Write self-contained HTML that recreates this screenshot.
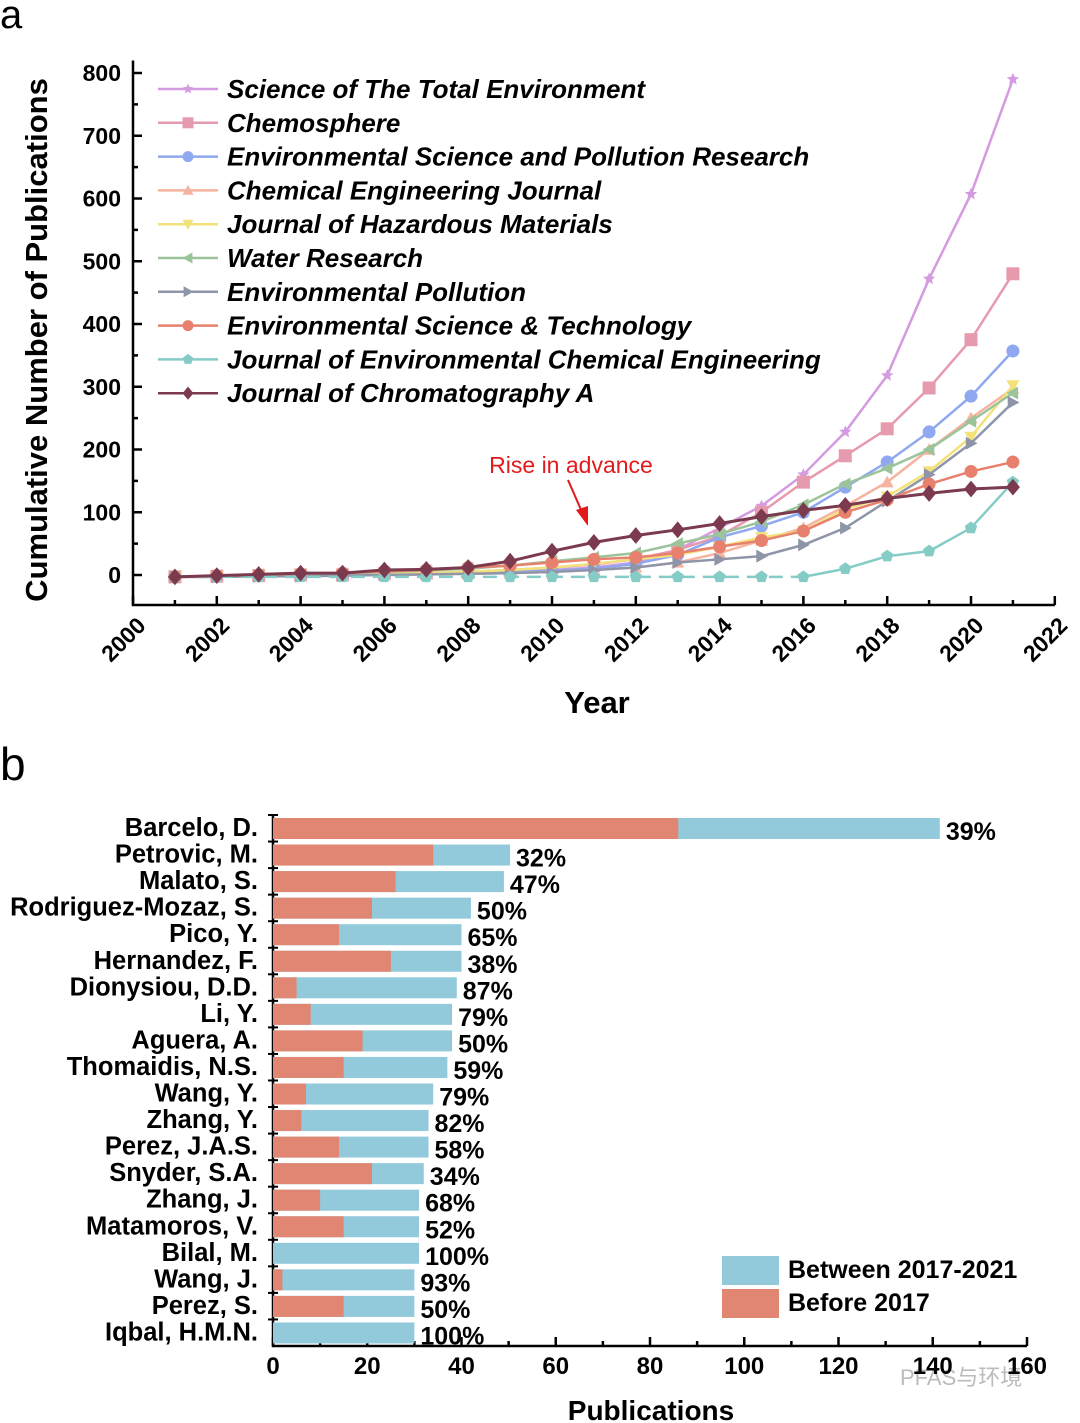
<!DOCTYPE html>
<html><head><meta charset="utf-8"><style>
body{margin:0;background:#fff;width:1080px;height:1423px;overflow:hidden}
svg{display:block;font-family:"Liberation Sans",Arial,sans-serif}
</style></head><body>
<svg id="s" width="1080" height="1423">
<text x="0" y="28" font-size="40">a</text>
<text x="0" y="780" font-size="46">b</text>
<text transform="translate(47,340) rotate(-90)" text-anchor="middle" font-size="31" font-weight="bold">Cumulative Number of Publications</text>
<text x="597" y="713" text-anchor="middle" font-size="31" font-weight="bold">Year</text>
<text x="571" y="473" text-anchor="middle" font-size="23" fill="#e31a1c">Rise in advance</text>
<text x="651" y="1420" text-anchor="middle" font-size="28" font-weight="bold">Publications</text>
<text x="900" y="1385" font-size="22" fill="#bbb">PFAS与环境</text>
</svg>
<script>
const years=[2001,2002,2003,2004,2005,2006,2007,2008,2009,2010,2011,2012,2013,2014,2015,2016,2017,2018,2019,2020,2021];
const names=["Science of The Total Environment","Chemosphere","Environmental Science and Pollution Research","Chemical Engineering Journal","Journal of Hazardous Materials","Water Research","Environmental Pollution","Environmental Science & Technology","Journal of Environmental Chemical Engineering","Journal of Chromatography A"];
const stoten=[-3,-2,-1,0,0,1,2,3,5,8,12,20,40,75,110,160,228,318,472,607,790];
const chemo=[-3,-2,-1,0,0,2,3,5,8,12,17,25,40,62,100,148,190,233,298,375,480];
const espr=[-3,-2,-1,0,0,1,2,3,5,7,10,18,32,60,78,100,140,180,228,285,357];
const cej=[-3,-3,-2,-1,-1,0,1,2,3,5,8,12,20,35,55,75,110,148,200,250,297];
const jhm=[-3,-2,-1,0,0,2,3,5,8,12,18,25,32,45,60,70,105,125,165,220,302];
const wr=[-3,-1,0,1,2,5,7,10,15,22,28,35,50,65,85,112,145,170,200,245,290];
const ep=[-3,-3,-2,-2,-1,0,1,2,3,5,8,12,20,25,30,48,75,118,160,210,275];
const est=[-3,-1,0,2,3,6,8,12,15,20,25,28,35,45,55,70,100,120,145,165,180];
const jece=[-3,-3,-3,-3,-3,-3,-3,-3,-3,-3,-3,-3,-3,-3,-3,-3,10,30,38,75,148];
const jca=[-3,-1,1,3,3,8,9,12,22,38,52,63,72,82,93,103,111,122,130,137,140];
const series=[stoten,chemo,espr,cej,jhm,wr,ep,est,jece,jca];
const colors=["#d49be0","#e69aad","#8fa8ef","#f5b3a0","#f3e27a","#9cc49a","#8e95a8","#e8806e","#86ccc6","#7b3a4e"];
const markers=["star","square","circle","up","down","left","right","circle","pent","diamond"];
const yTicks=[0,100,200,300,400,500,600,700,800];
const xTicks=[2000,2002,2004,2006,2008,2010,2012,2014,2016,2018,2020,2022];

const authors=["Barcelo, D.","Petrovic, M.","Malato, S.","Rodriguez-Mozaz, S.","Pico, Y.","Hernandez, F.","Dionysiou, D.D.","Li, Y.","Aguera, A.","Thomaidis, N.S.","Wang, Y.","Zhang, Y.","Perez, J.A.S.","Snyder, S.A.","Zhang, J.","Matamoros, V.","Bilal, M.","Wang, J.","Perez, S.","Iqbal, H.M.N."];
const totals=[141.5,50.3,49,42,40,40,39,38,38,37,34,33,33,32,31,31,31,30,30,30];
const before=[86,34,26,21,14,25,5,8,19,15,7,6,14,21,10,15,0,2,15,0];
const pctLabels=["39%","32%","47%","50%","65%","38%","87%","79%","50%","59%","79%","82%","58%","34%","68%","52%","100%","93%","50%","100%"];
const barTicks=[0,20,40,60,80,100,120,140,160];

const NS="http://www.w3.org/2000/svg";
const svg=document.getElementById("s");
function mk(t,a,p){const e=document.createElementNS(NS,t);for(const k in a)e.setAttribute(k,a[k]);(p||svg).appendChild(e);return e;}
const X=y=>133+(y-2000)*41.9;
const Y=v=>575-v*0.6275;

const axA=mk("g",{});


mk("path",{d:`M133,${Y(820)}V605H1055`,fill:"none",stroke:"#000","stroke-width":2.5},axA);
for(let v=0;v<=800;v+=50){mk("line",{x1:133,x2:133+(v%100?5:9),y1:Y(v),y2:Y(v),stroke:"#000","stroke-width":2.5},axA);}
yTicks.forEach(v=>{const t=mk("text",{x:121,y:Y(v)+8,"text-anchor":"end","font-size":23,"font-weight":"bold"},axA);t.textContent=v;

});
for(let y=2000;y<=2022;y++){mk("line",{x1:X(y),x2:X(y),y1:605,y2:605-(y%2?5:9),stroke:"#000","stroke-width":2.5},axA);}
xTicks.forEach(y=>{const t=mk("text",{transform:`translate(${X(y)+14},${627}) rotate(-45)`,"text-anchor":"end","font-size":23,"font-weight":"bold"},axA);t.textContent=y;

});

function marker(g,type,x,y,c,r){
 let e;
 if(type=="circle")e=mk("circle",{cx:x,cy:y,r:r,fill:c},g);
 else if(type=="square")e=mk("rect",{x:x-r,y:y-r,width:2*r,height:2*r,fill:c},g);
 else{let pts;
  if(type=="up")pts=[[0,-r],[r,r*.8],[-r,r*.8]];
  else if(type=="down")pts=[[0,r],[r,-r*.8],[-r,-r*.8]];
  else if(type=="left")pts=[[-r,0],[r*.8,-r],[r*.8,r]];
  else if(type=="right")pts=[[r,0],[-r*.8,-r],[-r*.8,r]];
  else if(type=="diamond")pts=[[0,-r*1.2],[r,0],[0,r*1.2],[-r,0]];
  else if(type=="pent"){pts=[];for(let i=0;i<5;i++){const a=-Math.PI/2+i*2*Math.PI/5;pts.push([r*Math.cos(a),r*Math.sin(a)]);}}
  else {pts=[];for(let i=0;i<10;i++){const a=-Math.PI/2+i*Math.PI/5,rr=i%2?r*.45:r;pts.push([rr*Math.cos(a),rr*Math.sin(a)]);}}
  e=mk("polygon",{points:pts.map(p=>(x+p[0])+","+(y+p[1])).join(" "),fill:c},g);}
 return e;
}
series.forEach((s,i)=>{
 const g=mk("g",{});
 
 
 const w=i==9?3:2.5;
 if(i==8){
  let k=years.findIndex((y,j)=>s[j]>0)-1;
  mk("polyline",{points:years.slice(0,k+1).map((y,j)=>X(y)+","+Y(s[j])).join(" "),fill:"none",stroke:colors[i],"stroke-width":w,"stroke-dasharray":"14,8"},g);
  mk("polyline",{points:years.slice(k).map((y,j)=>X(y)+","+Y(s[j+k])).join(" "),fill:"none",stroke:colors[i],"stroke-width":w},g);
 } else mk("polyline",{points:years.map((y,j)=>X(y)+","+Y(s[j])).join(" "),fill:"none",stroke:colors[i],"stroke-width":w},g);
 years.forEach((y,j)=>{const m=marker(g,markers[i],X(y),Y(s[j]),colors[i],i==9?7:6.5);
  
  });
 const ly=89+i*33.8;
 const lg=mk("g",{});
 
 
 mk("line",{x1:158,x2:218,y1:ly,y2:ly,stroke:colors[i],"stroke-width":2.5},lg);
 marker(lg,markers[i],188,ly,colors[i],5.5);
 const t=mk("text",{x:227,y:ly+9,"font-size":26,"font-weight":"bold","font-style":"italic"},lg);t.textContent=names[i];
});
const ar=mk("g",{});


mk("line",{x1:568,y1:480,x2:582,y2:512,stroke:"#e31a1c","stroke-width":2},ar);
mk("polygon",{points:"588,526 576,510 588,506",fill:"#e31a1c"},ar);

const BX=v=>273+v*4.7125;
const RY=i=>828+i*26.55;
const axB=mk("g",{});


mk("path",{d:"M273,815V1346H1027",fill:"none",stroke:"#000","stroke-width":2.5},axB);
for(let v=0;v<=160;v+=10){mk("line",{x1:BX(v),x2:BX(v),y1:1346,y2:1346-(v%20?5:9),stroke:"#000","stroke-width":2.5},axB);}
barTicks.forEach(v=>{const t=mk("text",{x:BX(v),y:1374,"text-anchor":"middle","font-size":24,"font-weight":"bold"},axB);t.textContent=v;

});
authors.forEach((a,i)=>{
 const y=RY(i);
 mk("line",{x1:268,x2:278,y1:y-13,y2:y-13,stroke:"#000","stroke-width":2},axB);
 const g=mk("g",{});
 
 
 const t=mk("text",{x:258,y:y+8,"text-anchor":"end","font-size":25.5,"font-weight":"bold"},g);t.textContent=a;
 const r1=mk("rect",{x:BX(0),y:y-10,width:BX(totals[i])-BX(0),height:21,fill:"#92cadc"},g);
 
 
 const r2=mk("rect",{x:BX(0),y:y-10,width:BX(before[i])-BX(0),height:21,fill:"#e08672"},g);
 
 
 const p=mk("text",{x:BX(totals[i])+6,y:y+12,"font-size":25,"font-weight":"bold"},g);p.textContent=pctLabels[i];
});
const lb=mk("g",{});


mk("rect",{x:722,y:1256,width:57,height:29,fill:"#92cadc"},lb);
mk("rect",{x:722,y:1289,width:57,height:29,fill:"#e08672"},lb);
let t1=mk("text",{x:788,y:1278,"font-size":25,"font-weight":"bold"},lb);t1.textContent="Between 2017-2021";
let t2=mk("text",{x:788,y:1311,"font-size":25,"font-weight":"bold"},lb);t2.textContent="Before 2017";
</script>
</body></html>
